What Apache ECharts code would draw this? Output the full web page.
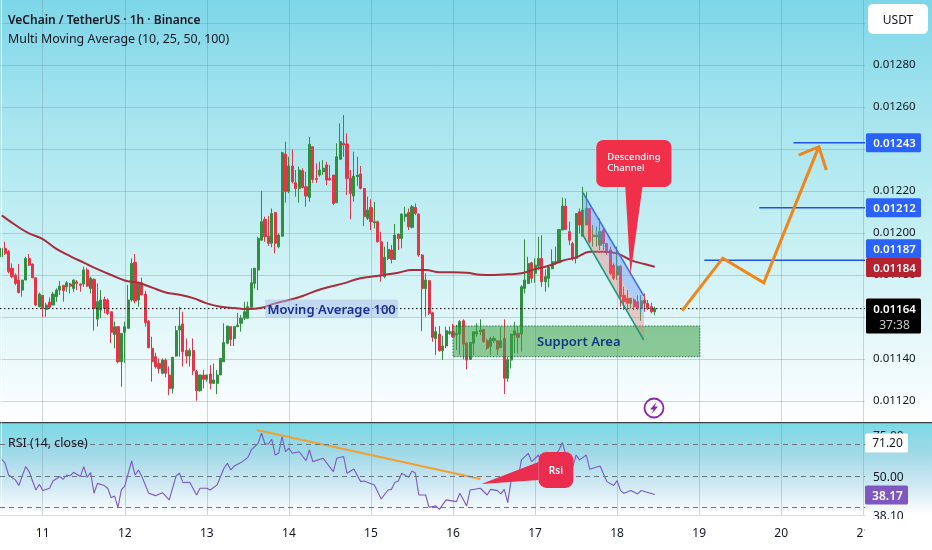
<!DOCTYPE html>
<html><head><meta charset="utf-8">
<style>html,body{margin:0;padding:0;background:#fff}#c{width:932px;height:550px}</style>
<script src="https://cdn.jsdelivr.net/npm/echarts@6/dist/echarts.min.js"></script>
</head><body><div id="c"></div>
<script>
// Prices below are in millionths of USDT. One row per hourly candle: [open, close, low, high]
const candleRows = [
[11887,11927,11855,11927],[11927,11903,11895,11958],[11911,11816,11808,11919],[11832,11792,11784,11855],[11800,11760,11752,11808],[11776,11716,11713,11852],[11728,11776,11697,11776],[11776,11879,11776,11887],[11879,11847,11843,11900],[11852,11787,11784,11855],
[11787,11657,11652,11787],[11649,11709,11646,11716],[11703,11641,11601,11703],[11636,11657,11601,11668],[11671,11646,11641,11693],[11657,11709,11657,11720],[11697,11728,11673,11736],[11728,11747,11705,11771],[11751,11725,11673,11751],[11744,11763,11720,11771],
[11757,11747,11713,11763],[11736,11776,11720,11779],[11767,11760,11728,11776],[11757,11751,11720,11760],[11757,11824,11744,11840],[11824,11747,11744,11835],[11736,11784,11713,11792],[11779,11641,11535,11784],[11590,11673,11554,11760],[11633,11681,11594,11728],
[11684,11641,11617,11697],[11681,11617,11609,11689],[11625,11527,11475,11625],[11517,11554,11451,11578],[11554,11387,11379,11554],[11387,11522,11268,11522],[11527,11554,11382,11578],[11546,11681,11546,11752],[11681,11855,11673,11879],[11860,11676,11665,11900],
[11681,11760,11649,11768],[11763,11705,11705,11787],[11709,11573,11554,11725],[11578,11454,11451,11586],[11451,11387,11292,11506],[11411,11364,11355,11430],[11379,11355,11332,11403],[11332,11395,11328,11403],[11395,11332,11313,11403],[11324,11260,11228,11364],
[11260,11408,11236,11408],[11414,11535,11411,11557],[11538,11557,11411,11649],[11567,11435,11364,11625],[11440,11414,11379,11498],[11414,11440,11364,11451],[11440,11344,11324,11498],[11340,11249,11201,11348],[11249,11324,11244,11324],[11324,11303,11260,11348],
[11303,11324,11292,11324],[11328,11284,11255,11371],[11284,11300,11284,11379],[11284,11324,11233,11348],[11324,11403,11324,11403],[11387,11478,11387,11570],[11475,11557,11470,11557],[11554,11493,11462,11554],[11498,11554,11462,11557],[11554,11562,11554,11620],
[11570,11594,11530,11609],[11594,11625,11586,11673],[11594,11649,11594,11673],[11646,11763,11641,11832],[11760,11832,11736,11832],[11824,11974,11728,11982],[11966,12054,11963,12201],[12065,11982,11958,12078],[11985,11951,11938,12081],[11951,12093,11932,12117],
[12097,11951,11903,12101],[11935,11990,11927,11998],[11985,12382,11982,12387],[12376,12197,12144,12435],[12197,12319,12189,12363],[12319,12244,12236,12398],[12239,12212,12173,12300],[12212,12300,12144,12316],[12297,12217,12212,12308],[12220,12176,12125,12292],
[12170,12422,12149,12458],[12411,12255,12239,12411],[12260,12255,12239,12331],[12276,12300,12268,12339],[12292,12308,12276,12347],[12324,12252,12228,12339],[12260,12252,12252,12324],[12276,12141,12133,12276],[12144,12363,12144,12427],[12351,12435,12351,12522],
[12427,12419,12363,12562],[12424,12260,12181,12474],[12260,12189,12065,12300],[12176,12271,12149,12387],[12268,12276,12224,12363],[12281,12212,12208,12319],[12212,12078,12033,12212],[12070,12109,12062,12173],[12122,12054,12014,12160],[12049,12054,12022,12149],
[12054,11958,11954,12059],[11958,11808,11768,12006],[11792,11884,11784,11935],[11879,11922,11871,11958],[11919,11874,11855,11943],[11874,11990,11871,12043],[11993,11974,11919,11998],[11974,12090,11927,12093],[12078,12090,12054,12125],[12097,12030,12014,12117],
[12027,12125,12022,12133],[12122,12093,12085,12141],[12090,11895,11887,12093],[11895,11736,11533,11900],[11736,11776,11601,11808],[11773,11617,11609,11776],[11620,11503,11482,11625],[11498,11530,11419,11554],[11519,11440,11435,11557],[11440,11462,11395,11509],
[11462,11535,11451,11554],[11522,11530,11514,11554],[11530,11506,11503,11567],[11514,11522,11443,11562],[11519,11578,11419,11586],[11582,11471,11398,11589],[11475,11395,11351,11482],[11398,11478,11395,11482],[11475,11530,11419,11530],[11519,11530,11506,11570],
[11530,11538,11514,11589],[11541,11482,11478,11541],[11487,11451,11443,11498],[11459,11498,11419,11506],[11487,11498,11475,11509],[11487,11446,11419,11487],[11455,11487,11451,11551],[11498,11308,11233,11589],[11308,11398,11292,11411],[11395,11519,11355,11519],
[11514,11535,11427,11577],[11522,11503,11427,11554],[11519,11744,11435,11752],[11736,11776,11712,11969],[11760,11855,11757,11887],[11858,11784,11763,11863],[11808,11847,11763,11879],[11842,11879,11823,11982],[11879,11768,11744,11990],[11768,11792,11720,11827],
[11784,11836,11741,11839],[11831,11863,11827,11922],[11858,11863,11847,11935],[11858,12017,11858,12017],[12014,12128,12014,12169],[12128,12017,12014,12165],[12006,11966,11942,12054],[11950,11879,11868,11958],[11879,12093,11855,12093],[12101,12038,11998,12117],
[11985,12109,11982,12220],[12038,12117,12038,12196],[12117,11958,11950,12117],[11982,11990,11935,12038],[11982,11990,11935,12030],[11942,12006,11919,12069],[12014,11950,11919,12022],[11950,11911,11895,11950],[11919,11808,11800,11935],[11847,11784,11776,11855],
[11800,11842,11776,11935],[11842,11697,11649,11847],[11704,11673,11633,11744],[11689,11665,11633,11728],[11665,11689,11641,11689],[11681,11649,11633,11689],[11673,11641,11633,11704],[11641,11677,11582,11704],[11681,11665,11625,11712],[11665,11641,11633,11681],
[11649,11625,11617,11668],[11625,11640,11609,11649]
];
// Moving average 100, read every fourth hour: [hour, price]
const ma100 = [[0,12084],[4,12038],[8,11998],[12,11971],[16,11924],[20,11890],[24,11859],[28,11828],[32,11800],[36,11774],[40,11763],[44,11740],[48,11717],[52,11706],[56,11690],[60,11665],[64,11649],[68,11643],[72,11638],[76,11644],[80,11665],[84,11681],[88,11700],[92,11725],[96,11744],[100,11760],[104,11781],[108,11792],[112,11801],[116,11811],[120,11824],[124,11824],[128,11813],[132,11813],[136,11811],[140,11801],[144,11800],[148,11803],[152,11808],[156,11828],[160,11844],[164,11868],[168,11884],[172,11911],[176,11911],[180,11903],[184,11871],[188,11852],[191,11839]];
// RSI turning points: [hour, value]
const rsiPoints = [[0,60.6],[1,58.0],[2,50.6],[4,47.5],[5,43.9],[7,55.9],[8,52.8],[10,41.1],[11,44.7],[12,40.7],[14,42.2],[15,46.8],[17,49.6],[18,47.9],[19,50.6],[20,50.0],[21,52.3],[23,49.6],[24,55.9],[25,49.2],[26,52.1],[27,39.0],[28,45.3],[30,43.9],[31,42.2],[32,36.2],[33,37.3],[34,30.1],[35,41.1],[36,43.7],[38,59.5],[39,50.6],[40,53.8],[41,49.6],[43,39.0],[45,37.5],[47,39.4],[49,34.8],[51,50.0],[52,51.7],[53,45.8],[55,46.0],[57,37.9],[58,42.2],[60,42.2],[61,41.1],[63,44.3],[65,54.9],[66,58.0],[67,53.8],[68,56.3],[70,58.5],[72,61.8],[73,66.5],[75,70.7],[76,77.1],[77,70.3],[78,70.3],[79,73.3],[80,63.3],[81,64.4],[82,75.0],[83,65.4],[84,67.6],[85,64.4],[87,65.4],[89,59.7],[90,66.5],[91,59.1],[94,61.2],[97,52.8],[98,61.2],[100,62.3],[101,51.7],[103,54.4],[105,46.4],[106,46.8],[109,44.3],[111,35.4],[113,41.1],[114,41.5],[115,46.0],[116,46.8],[117,51.7],[119,49.2],[120,53.2],[121,51.7],[122,37.9],[124,37.9],[125,30.1],[127,31.0],[128,28.8],[130,34.8],[133,33.7],[134,39.0],[136,31.0],[137,41.1],[140,42.2],[142,37.9],[143,41.5],[145,40.7],[146,38.6],[147,41.5],[148,33.1],[149,47.5],[151,47.9],[152,60.2],[154,64.4],[155,59.1],[157,63.3],[158,57.0],[161,60.6],[163,66.5],[164,71.2],[165,63.3],[167,55.9],[168,63.3],[169,60.2],[171,63.3],[172,54.2],[175,56.3],[177,46.4],[179,43.9],[180,47.0],[181,40.7],[182,39.0],[184,40.7],[186,38.6],[187,40.7],[191,38.17]];
const rsiLevels = [70,50,30];
const rsiTrend = [[74.6,79.2],[140,48.1]];
const dayLabels = ['11','12','13','14','15','16','17','18','19','20','21'];
const dayHours = [12,36,60,84,108,132,156,180,204,228,252];
const priceTicks = [11200,11400,11600,11800,12000,12200,12400,12600,12800,13000];
const lastPrice = 11640;
const maLast = 11840;
const targetLevels = [[231.6,12430],[221.6,12120],[205.5,11870]];
const forecastPath = [[199,11630],[210.9,11880],[222.9,11763],[239,12411]];
const forecastArrow = [[233.1,12371],[239,12411],[241.2,12300]];
const supportBox = [132,11411,204.2,11557];
const channelHours = [170,187.8];
const channelUpper = [12192,11701];
const channelMiddle = [12095,11595];
const channelLower = [11990,11490];

const FONT = "'Noto Sans', sans-serif";
const P = v => v / 1e6;
const HOUR_MAX = 252.5, PANE_RIGHT = 865;
const categories = candleRows.map((_, i) => String(i));
for (let i = candleRows.length; i <= 252; i++) categories.push(String(i));

const vGrad = stops => ({type:'linear',x:0,y:0,x2:0,y2:1,colorStops:stops.map(s=>({offset:s[0],color:s[1]}))});
const mainBg = vGrad([[0,'#7cd6e8'],[.25,'#a3e3ee'],[.55,'#c4eff3'],[.8,'#e6f8fa'],[1,'#ffffff']]);
const rsiBg = vGrad([[0,'#7cdbe6'],[.3,'#9ed8e6'],[.7,'#d3eaf4'],[1,'#ffffff']]);
const txt = (text,x,y,font,fill,z,align,va)=>({type:'text',z:z,silent:true,style:{text,x,y:y+1.2,font,fill,textAlign:align||'left',align:align||'left',textVerticalAlign:va||'middle',verticalAlign:va||'middle'}});
const rect = (x,y,w,h,fill,z,r)=>({type:'rect',z:z,silent:true,shape:{x,y,width:w,height:h,r:r||0},style:{fill}});

function tagItem(y,h,fill,lines,x,w,textFill,font){
  const kids=[{type:'rect',shape:{x,y,width:w,height:h,r:1.5},style:{fill}}];
  lines.forEach(l=>kids.push({type:'text',style:{text:l[0],x:x+w/2+1,y:y+l[1]+1,fill:l[3]||textFill,font:l[2]||font,textAlign:'center',align:'center',textVerticalAlign:'middle',verticalAlign:'middle'}}));
  return kids;
}
const option = {
  animation:false,
  tooltip:{show:false},
  grid:[
    {left:0,top:0,width:PANE_RIGHT,height:422,containLabel:false},
    {left:0,top:424,width:PANE_RIGHT,height:91,containLabel:false}
  ],
  xAxis:[
    {type:'category',gridIndex:0,data:categories,show:false,boundaryGap:true},
    {type:'value',gridIndex:0,min:-0.5,max:HOUR_MAX,axisLine:{show:false},axisTick:{show:false,customValues:dayHours},
      axisLabel:{show:false,customValues:dayHours},splitLine:{show:true,lineStyle:{color:'rgba(110,135,145,.32)',width:1}}},
    {type:'value',gridIndex:1,min:-0.5,max:HOUR_MAX,axisLine:{show:true,lineStyle:{color:'rgba(130,140,150,.3)'}},axisTick:{show:false,customValues:dayHours},
      axisLabel:{show:true,customValues:dayHours,margin:13,color:'#131722',fontSize:12,fontFamily:FONT,
        formatter:v=>dayLabels[dayHours.indexOf(v)]},
      splitLine:{show:true,lineStyle:{color:'rgba(110,135,145,.32)',width:1}}}
  ],
  yAxis:[
    {type:'value',gridIndex:0,position:'right',z:3,min:P(11100),max:P(13109.5),scale:true,
      axisLine:{show:true,lineStyle:{color:'#ffffff',width:1}},axisTick:{show:false,customValues:priceTicks.map(P)},
      axisLabel:{customValues:priceTicks.map(P),margin:8,color:'#131722',fontSize:11.5,fontFamily:FONT,padding:[3,0,0,0],formatter:v=>v.toFixed(5)},
      splitLine:{show:true,lineStyle:{color:'rgba(110,135,145,.32)',width:1}}},
    {type:'value',gridIndex:1,position:'right',z:3,min:25.2,max:83,
      axisLine:{show:true,lineStyle:{color:'#ffffff',width:1}},axisTick:{show:false},axisLabel:{show:false},splitLine:{show:false}}
  ],
  series:[
    {type:'candlestick',name:'VET/USDT',xAxisIndex:0,yAxisIndex:0,barWidth:2.6,z:2,
      data:candleRows.map(r=>r.map(P)),
      itemStyle:{color:'#2f8f3e',color0:'#e63446',borderColor:'#2f8f3e',borderColor0:'#e63446',borderWidth:1}},
    {type:'line',name:'Last price',xAxisIndex:1,yAxisIndex:0,z:3,symbol:'none',silent:true,
      data:[[-0.5,P(lastPrice)],[HOUR_MAX,P(lastPrice)]],lineStyle:{color:'#000',width:1,type:[1.5,2.5]}},
    {type:'line',name:'Moving Average 100',xAxisIndex:1,yAxisIndex:0,z:3,symbol:'none',silent:true,smooth:.4,
      data:ma100.map(p=>[p[0],P(p[1])]),lineStyle:{color:'#a72c3c',width:2}},
    {type:'custom',name:'drawings',xAxisIndex:1,yAxisIndex:0,z:4,silent:true,clip:false,data:[[0,P(lastPrice)]],
      renderItem:(params,api)=>{
        const c=(h,v)=>api.coord([h,P(v)]);
        const kids=[];
        const a=c(supportBox[0],supportBox[3]), b=c(supportBox[2],supportBox[1]);
        kids.push({type:'rect',shape:{x:a[0],y:a[1],width:b[0]-a[0],height:b[1]-a[1]},
          style:{fill:'rgba(60,160,70,.55)',stroke:'rgba(20,90,50,.8)',lineWidth:1,lineDash:[1.5,1.5]}});
        const u0=c(channelHours[0],channelUpper[0]),u1=c(channelHours[1],channelUpper[1]);
        const m0=c(channelHours[0],channelMiddle[0]),m1=c(channelHours[1],channelMiddle[1]);
        const l0=c(channelHours[0],channelLower[0]),l1=c(channelHours[1],channelLower[1]);
        kids.push({type:'polygon',shape:{points:[u0,u1,m1,m0]},style:{fill:'rgba(110,150,250,.42)'}});
        kids.push({type:'polygon',shape:{points:[m0,m1,l1,l0]},style:{fill:'rgba(235,120,120,.36)'}});
        kids.push({type:'line',shape:{x1:u0[0],y1:u0[1],x2:u1[0],y2:u1[1]},style:{stroke:'#3d6fe6',lineWidth:1.6}});
        kids.push({type:'line',shape:{x1:l0[0],y1:l0[1],x2:l1[0],y2:l1[1]},style:{stroke:'#169a78',lineWidth:1.6}});
        const mt=c(96.5,11640);
        kids.push({type:'rect',shape:{x:mt[0]-66.5,y:mt[1]-9,width:133,height:18,r:1},style:{fill:'rgba(165,190,235,.5)'}});
        kids.push({type:'text',style:{text:'Moving Average 100',x:mt[0],y:mt[1]+1.5,font:"600 13px "+FONT,fill:'#1a2e96',textAlign:'center',align:'center',textVerticalAlign:'middle',verticalAlign:'middle'}});
        const st=c(156.6,11482);
        kids.push({type:'text',style:{text:'Support Area',x:st[0],y:st[1]+1,font:"600 13px "+FONT,fill:'#0d3a85',textAlign:'left',align:'left',textVerticalAlign:'middle',verticalAlign:'middle'}});
        targetLevels.forEach(t=>{const s=c(t[0],t[1]),e=c(HOUR_MAX,t[1]);
          kids.push({type:'line',shape:{x1:s[0],y1:s[1],x2:e[0],y2:e[1]},style:{stroke:'#1e53e5',lineWidth:1.6}});});
        const fp=forecastPath.map(p=>c(p[0],p[1]));
        kids.push({type:'polyline',shape:{points:fp},style:{stroke:'#f08519',lineWidth:3,fill:'none',lineJoin:'miter'}});
        kids.push({type:'polyline',shape:{points:forecastArrow.map(p=>c(p[0],p[1]))},style:{stroke:'#f08519',lineWidth:3,fill:'none'}});
        const tl=c(173.9,12443), br=c(195.9,12219), tip=c(183.9,11800), b1=c(182.4,12219), b2=c(187.4,12219);
        kids.push({type:'polygon',shape:{points:[b1,b2,tip]},style:{fill:'#f0304a'}});
        kids.push({type:'rect',shape:{x:tl[0],y:tl[1],width:br[0]-tl[0],height:br[1]-tl[1],r:7},style:{fill:'#f0304a'}});
        kids.push({type:'text',style:{text:'Descending\nChannel',x:tl[0]+11,y:tl[1]+23,font:"500 9.5px "+FONT,lineHeight:11,fill:'#fff',textAlign:'left',align:'left',textVerticalAlign:'middle',verticalAlign:'middle'}});
        return {type:'group',children:kids};
      }},
    {type:'custom',name:'price tags',xAxisIndex:1,yAxisIndex:0,z:6,silent:true,clip:false,data:[[0,P(lastPrice)]],
      renderItem:(params,api)=>{
        const y=v=>api.coord([0,P(v)])[1];
        const x=PANE_RIGHT+1,w=55,font="600 11.5px "+FONT;
        let kids=[];
        // The platform stacks a tag that would overlap the next one upward.
        const stackLift={12430:0,12120:0,11870:11.5};
        targetLevels.forEach(t=>{kids=kids.concat(tagItem(y(t[1])-9.5-stackLift[t[1]],19,'#2962ff',[[P(t[1]).toFixed(5),9.5]],x,w,'#fff',font));});
        kids=kids.concat(tagItem(y(maLast)-8.5,19,'#b4222f',[[P(maLast).toFixed(5),9.5]],x,w,'#fff',font));
        kids=kids.concat(tagItem(y(lastPrice)-10,35,'#000',[[P(lastPrice).toFixed(5),10],['37:38',26,"12px "+FONT,'#c8c8c8']],x,w,'#fff',font));
        return {type:'group',children:kids};
      }},
    {type:'line',name:'RSI',xAxisIndex:2,yAxisIndex:1,z:3,symbol:'none',silent:true,
      data:rsiPoints,lineStyle:{color:'#7e57c2',width:1.1},
      markLine:{silent:true,symbol:'none',label:{show:false},animation:false,
        lineStyle:{color:'#6f7580',type:[5,4],width:1},data:rsiLevels.map(v=>({yAxis:v}))}},
    {type:'line',name:'RSI trend',xAxisIndex:2,yAxisIndex:1,z:4,symbol:'none',silent:true,
      data:rsiTrend,lineStyle:{color:'#f0a030',width:2}},
    {type:'custom',name:'rsi callout',xAxisIndex:2,yAxisIndex:1,z:5,silent:true,clip:false,data:[[0,50]],
      renderItem:(params,api)=>{
        const c=(h,v)=>api.coord([h,v]);
        const tl=c(157,65.2),br=c(167.2,42.4),tip=c(140.3,44.9),b1=c(157,58.9),b2=c(157,47.5);
        const kids=[
          {type:'polygon',shape:{points:[b1,tip,b2]},style:{fill:'#ea2c4f'}},
          {type:'rect',shape:{x:tl[0],y:tl[1],width:br[0]-tl[0],height:br[1]-tl[1],r:8},style:{fill:'#ea2c4f'}},
          {type:'text',style:{text:'Rsi',x:(tl[0]+br[0])/2,y:(tl[1]+br[1])/2+1,font:"600 10px "+FONT,fill:'#fff',textAlign:'center',align:'center',textVerticalAlign:'middle',verticalAlign:'middle'}}
        ];
        const y=v=>api.coord([0,v])[1];
        const x=PANE_RIGHT,w=43,font="12px "+FONT;
        tagItem(y(71.2)-9,19,'#ffffff',[['71.20',9.5]],x,w,'#131722',font).forEach(k=>kids.push(k));
        tagItem(y(38.17)-9,19,'#7e57c2',[['38.17',9.5]],x,w,'#ffffff',"600 12px "+FONT).forEach(k=>kids.push(k));
        return {type:'group',children:kids};
      }}
  ],
  graphic:{elements:[
    rect(0,0,932,422,mainBg,-10),
    rect(0,424,932,91,rsiBg,-10),
    rect(0,515,932,35,'#ffffff',-10),
    rect(0,422,932,1.6,'#3a3f45',1),
    rect(868,4,60,30,'#ffffff',4,5),
    txt('USDT',898,19,"12px "+FONT,'#131722',5,'center'),
    txt('VeChain / TetherUS · 1h · Binance',8,19,"600 12px "+FONT,'#131722',8),
    txt('Multi Moving Average (10, 25, 50, 100)',8,38,"12.4px "+FONT,'#131722',8),
    txt('RSI (14, close)',8,442,"12.4px "+FONT,'#131722',8),
    txt('75.00',873,435,"12px "+FONT,'#131722',2),
    txt('50.00',873,476,"12px "+FONT,'#131722',2),
    txt('38.10',873,515,"12px "+FONT,'#131722',2),
    rect(865,519,67,31,'#ffffff',3),
    {type:'circle',z:4,silent:true,shape:{cx:654,cy:408,r:9.5},style:{fill:'rgba(255,255,255,.35)',stroke:'#8e24aa',lineWidth:1.8}},
    {type:'polygon',z:4,silent:true,shape:{points:[[656.5,402],[650,409.5],[653.5,409.5],[651.5,414],[658,406.5],[654.5,406.5]]},style:{fill:'#8e24aa'}}
  ]}
};
const chart = echarts.init(document.getElementById('c'),null,{renderer:'canvas',width:932,height:550});
chart.setOption(option);
</script>
</body></html>
